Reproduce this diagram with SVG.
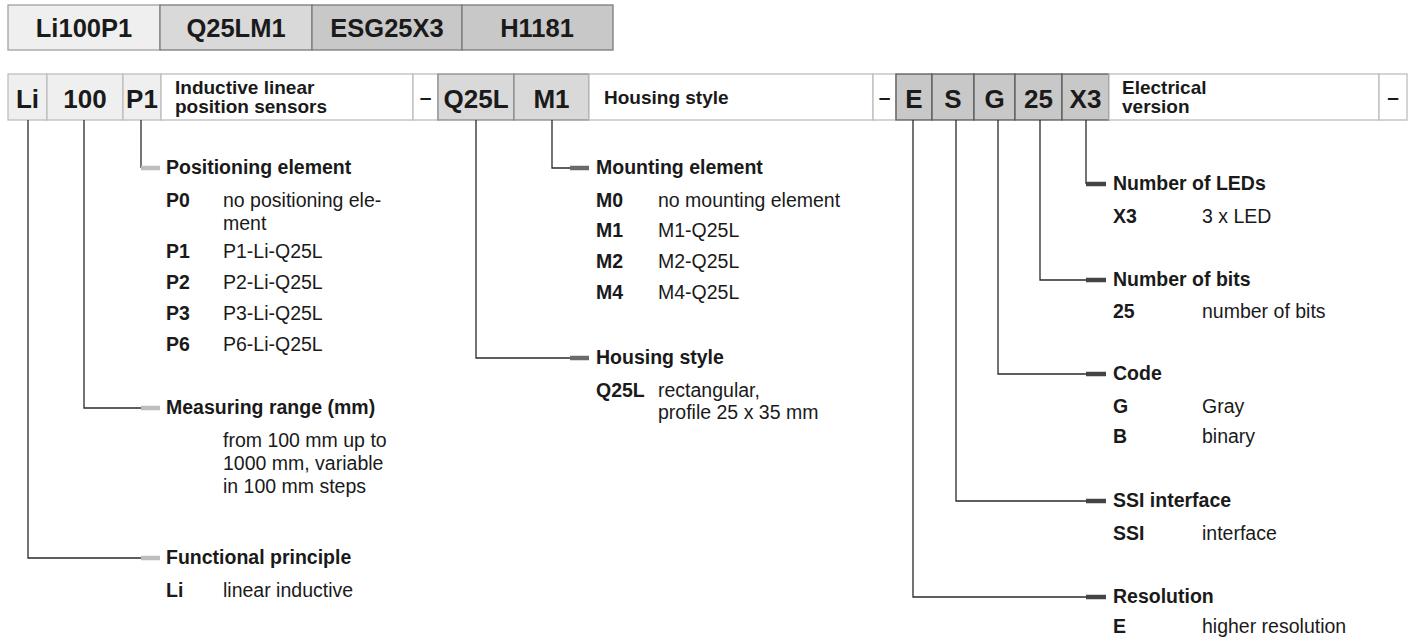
<svg xmlns="http://www.w3.org/2000/svg" width="1413" height="638" viewBox="0 0 1413 638">
<style>
text{font-family:"Liberation Sans",Arial,sans-serif;fill:#1a1a1a}
.top{font-size:25.5px;font-weight:bold;text-anchor:middle}
.code{font-size:26px;font-weight:bold;text-anchor:middle}
.bd{font-size:19px;font-weight:bold}
.dash{font-size:21px;font-weight:bold;text-anchor:middle}
.h{font-size:19.5px;font-weight:bold}
.k{font-size:19.5px;font-weight:bold}
.d{font-size:19.5px}
.c1{fill:#efefef;stroke:#bdbdbd;stroke-width:1.3}
.c2{fill:#d9d9d9;stroke:#8a8a8a;stroke-width:1.3}
.c3{fill:#c8c8c8;stroke:#5a5a5a;stroke-width:1.3}
.cw{fill:#ffffff;stroke:#bdbdbd;stroke-width:1.3}
.tb1{fill:#efefef;stroke:#a0a0a0;stroke-width:1.3}
.tb2{fill:#d9d9d9;stroke:#7a7a7a;stroke-width:1.3}
.tb3{fill:#c8c8c8;stroke:#7a7a7a;stroke-width:1.3}
.ln{fill:none;stroke:#2a2a2a;stroke-width:1.3}
.m1{stroke:#bdbdbd;stroke-width:4.5}
.m2{stroke:#6a6a6a;stroke-width:4.5}
.m3{stroke:#444444;stroke-width:4.5}
</style>

<g id="type-code">
<rect class="tb1" x="8" y="5" width="152" height="45"/>
<rect class="tb2" x="160" y="5" width="152" height="45"/>
<rect class="tb3" x="312" y="5" width="150" height="45"/>
<rect class="tb3" x="462" y="5" width="151" height="45"/>
<text class="top" x="84" y="37">Li100P1</text>
<text class="top" x="236" y="37">Q25LM1</text>
<text class="top" x="387" y="37">ESG25X3</text>
<text class="top" x="537" y="37">H1181</text>
</g>

<g id="code-bar">
<rect class="c1" x="8" y="74" width="39" height="46"/>
<rect class="c1" x="47" y="74" width="76" height="46"/>
<rect class="c1" x="123" y="74" width="38" height="46"/>
<rect class="cw" x="161" y="74" width="252" height="46"/>
<rect class="cw" x="413" y="74" width="25" height="46"/>
<rect class="c2" x="438" y="74" width="76" height="46"/>
<rect class="c2" x="514" y="74" width="75" height="46"/>
<rect class="cw" x="589" y="74" width="284" height="46"/>
<rect class="cw" x="873" y="74" width="23" height="46"/>
<rect class="c3" x="896" y="74" width="36" height="46"/>
<rect class="c3" x="932" y="74" width="42" height="46"/>
<rect class="c3" x="974" y="74" width="41" height="46"/>
<rect class="c3" x="1015" y="74" width="47" height="46"/>
<rect class="c3" x="1062" y="74" width="47" height="46"/>
<rect class="cw" x="1109" y="74" width="270" height="46"/>
<rect class="cw" x="1379" y="74" width="28" height="46"/>
<text class="code" x="27.5" y="108">Li</text>
<text class="code" x="85" y="108">100</text>
<text class="code" x="142" y="108">P1</text>
<text class="bd" x="175" y="94">Inductive linear</text>
<text class="bd" x="175" y="113">position sensors</text>
<text class="dash" x="425.5" y="104">–</text>
<text class="code" x="476" y="108">Q25L</text>
<text class="code" x="551.5" y="108">M1</text>
<text class="bd" x="604" y="104">Housing style</text>
<text class="dash" x="884.5" y="104">–</text>
<text class="code" x="914" y="108">E</text>
<text class="code" x="953" y="108">S</text>
<text class="code" x="994.5" y="108">G</text>
<text class="code" x="1038.5" y="108">25</text>
<text class="code" x="1085.5" y="108">X3</text>
<text class="bd" x="1122" y="94">Electrical</text>
<text class="bd" x="1122" y="113">version</text>
<text class="dash" x="1393" y="104">–</text>
</g>

<g id="connectors">
<polyline class="ln" points="141,120 141,168"/>
<polyline class="ln" points="84,120 84,408 141,408"/>
<polyline class="ln" points="28,120 28,558 141,558"/>
<polyline class="ln" points="552,120 552,168 570,168"/>
<polyline class="ln" points="476,120 476,358 570,358"/>
<polyline class="ln" points="1086,120 1086,184"/>
<polyline class="ln" points="1040,120 1040,280 1086,280"/>
<polyline class="ln" points="998,120 998,374 1086,374"/>
<polyline class="ln" points="956,120 956,501 1086,501"/>
<polyline class="ln" points="913,120 913,597 1086,597"/>
<line class="m1" x1="141" y1="168" x2="160" y2="168"/>
<line class="m1" x1="141" y1="408" x2="160" y2="408"/>
<line class="m1" x1="141" y1="558" x2="160" y2="558"/>
<line class="m2" x1="570" y1="168" x2="589" y2="168"/>
<line class="m2" x1="570" y1="358" x2="589" y2="358"/>
<line class="m3" x1="1086" y1="184" x2="1106" y2="184"/>
<line class="m3" x1="1086" y1="280" x2="1106" y2="280"/>
<line class="m3" x1="1086" y1="374" x2="1106" y2="374"/>
<line class="m3" x1="1086" y1="501" x2="1106" y2="501"/>
<line class="m3" x1="1086" y1="597" x2="1106" y2="597"/>
</g>

<g id="positioning-element">
<text class="h" x="166" y="174">Positioning element</text>
<text class="k" x="166" y="207">P0</text><text class="d" x="223" y="207">no positioning ele-</text>
<text class="d" x="223" y="230">ment</text>
<text class="k" x="166" y="258">P1</text><text class="d" x="223" y="258">P1-Li-Q25L</text>
<text class="k" x="166" y="289">P2</text><text class="d" x="223" y="289">P2-Li-Q25L</text>
<text class="k" x="166" y="320">P3</text><text class="d" x="223" y="320">P3-Li-Q25L</text>
<text class="k" x="166" y="351">P6</text><text class="d" x="223" y="351">P6-Li-Q25L</text>
</g>

<g id="measuring-range">
<text class="h" x="166" y="414">Measuring range (mm)</text>
<text class="d" x="223" y="447">from 100 mm up to</text>
<text class="d" x="223" y="470">1000 mm, variable</text>
<text class="d" x="223" y="493">in 100 mm steps</text>
</g>

<g id="functional-principle">
<text class="h" x="166" y="564">Functional principle</text>
<text class="k" x="166" y="597">Li</text><text class="d" x="223" y="597">linear inductive</text>
</g>

<g id="mounting-element">
<text class="h" x="596" y="174">Mounting element</text>
<text class="k" x="596" y="207">M0</text><text class="d" x="658" y="207">no mounting element</text>
<text class="k" x="596" y="237">M1</text><text class="d" x="658" y="237">M1-Q25L</text>
<text class="k" x="596" y="268">M2</text><text class="d" x="658" y="268">M2-Q25L</text>
<text class="k" x="596" y="299">M4</text><text class="d" x="658" y="299">M4-Q25L</text>
</g>

<g id="housing-style">
<text class="h" x="596" y="364">Housing style</text>
<text class="k" x="596" y="397">Q25L</text><text class="d" x="658" y="397">rectangular,</text>
<text class="d" x="658" y="419">profile 25 x 35 mm</text>
</g>

<g id="number-of-leds">
<text class="h" x="1113" y="190">Number of LEDs</text>
<text class="k" x="1113" y="223">X3</text><text class="d" x="1202" y="223">3 x LED</text>
</g>

<g id="number-of-bits">
<text class="h" x="1113" y="286">Number of bits</text>
<text class="k" x="1113" y="318">25</text><text class="d" x="1202" y="318">number of bits</text>
</g>

<g id="code">
<text class="h" x="1113" y="380">Code</text>
<text class="k" x="1113" y="413">G</text><text class="d" x="1202" y="413">Gray</text>
<text class="k" x="1113" y="443">B</text><text class="d" x="1202" y="443">binary</text>
</g>

<g id="ssi-interface">
<text class="h" x="1113" y="507">SSI interface</text>
<text class="k" x="1113" y="540">SSI</text><text class="d" x="1202" y="540">interface</text>
</g>

<g id="resolution">
<text class="h" x="1113" y="603">Resolution</text>
<text class="k" x="1113" y="633">E</text><text class="d" x="1202" y="633">higher resolution</text>
</g>
</svg>
